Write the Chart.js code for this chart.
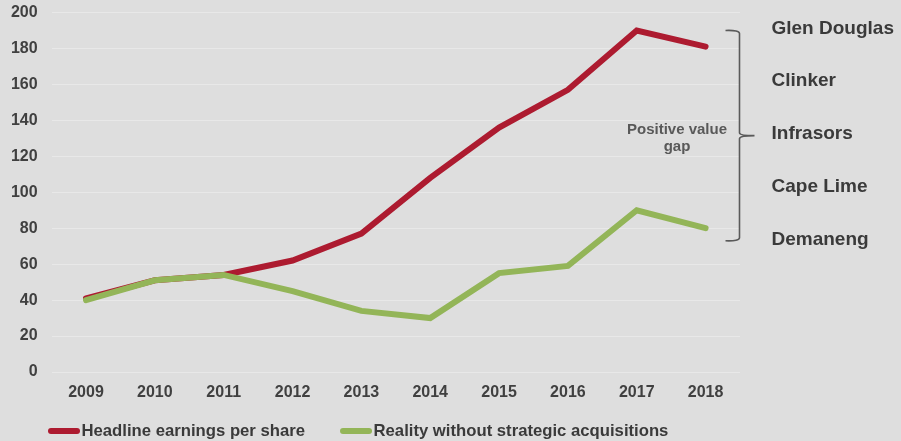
<!DOCTYPE html>
<html>
<head>
<meta charset="utf-8">
<title>Headline earnings per share vs. reality without strategic acquisitions</title>
<script src="https://cdn.jsdelivr.net/npm/chart.js@4/dist/chart.umd.min.js"></script>
<style>
  html, body { margin: 0; padding: 0; background: #dedede; }
  canvas { display: block; }
</style>
</head>
<body>
<canvas id="chart" width="901" height="441"></canvas>
<script>
// ---- data ----
const years = ['2009', '2010', '2011', '2012', '2013', '2014', '2015', '2016', '2017', '2018'];
const headlineEps = [41, 51, 54, 62, 77, 108, 136, 157, 190, 181];
const withoutAcquisitions = [40, 51, 54, 45, 34, 30, 55, 59, 90, 80];
const seriesNames = ['Headline earnings per share', 'Reality without strategic acquisitions'];
const acquisitions = ['Glen Douglas', 'Clinker', 'Infrasors', 'Cape Lime', 'Demaneng'];
const gapLabel = ['Positive value', 'gap'];
const yMin = 0, yMax = 200, yStep = 20;
// value range the brace on the right spans
const gapTop = 190, gapBottom = 73;

// ---- styling ----
const FONT = "'Liberation Sans', Arial, Helvetica, sans-serif";
const RED = '#ad1b30';
const GREEN = '#93b558';
const BG = '#dedede';

// Paint the grey page background behind the chart
const background = {
  id: 'background',
  beforeDraw(chart) {
    const ctx = chart.ctx;
    ctx.save();
    ctx.fillStyle = BG;
    ctx.fillRect(0, 0, chart.width, chart.height);
    ctx.restore();
  }
};

// Brace, its caption and the list of acquisitions on the right
const gapBrace = {
  id: 'gapBrace',
  afterDraw(chart) {
    const ctx = chart.ctx;
    const y = chart.scales.y;
    const area = chart.chartArea;
    const top = y.getPixelForValue(gapTop);
    const bottom = y.getPixelForValue(gapBottom);
    const mid = (top + bottom) / 2;
    const xr = area.right - 0.5;
    const xl = xr - 14;
    ctx.save();
    ctx.strokeStyle = '#5a5a5a';
    ctx.lineWidth = 1.6;
    ctx.lineJoin = 'round';
    ctx.beginPath();
    ctx.moveTo(xl, top);
    ctx.quadraticCurveTo(xr, top - 0.5, xr, top + 3);
    ctx.lineTo(xr, mid - 3);
    ctx.quadraticCurveTo(xr, mid, xr + 15, mid);
    ctx.moveTo(xr + 15, mid);
    ctx.quadraticCurveTo(xr, mid, xr, mid + 3);
    ctx.lineTo(xr, bottom - 3);
    ctx.quadraticCurveTo(xr, bottom + 0.5, xl, bottom);
    ctx.stroke();

    // caption to the left of the brace
    ctx.fillStyle = '#595959';
    ctx.font = 'bold 15px ' + FONT;
    ctx.textAlign = 'center';
    ctx.textBaseline = 'alphabetic';
    ctx.fillText(gapLabel[0], xr - 62.5, mid - 2);
    ctx.fillText(gapLabel[1], xr - 62.5, mid + 15.5);

    // acquisitions list to the right of the brace
    ctx.fillStyle = '#3a3a3a';
    ctx.font = 'bold 19px ' + FONT;
    ctx.textAlign = 'left';
    ctx.textBaseline = 'middle';
    const first = top - 2;
    const last = bottom - 1.5;
    const step = (last - first) / (acquisitions.length - 1);
    acquisitions.forEach((name, i) => {
      ctx.fillText(name, xr + 32, first + i * step);
    });
    ctx.restore();
  }
};

// Legend along the bottom: line swatch followed directly by its label
const lineLegend = {
  id: 'lineLegend',
  afterDraw(chart) {
    const ctx = chart.ctx;
    const yc = 431;
    let x = 48;
    ctx.save();
    ctx.font = 'bold 16.7px ' + FONT;
    ctx.textBaseline = 'middle';
    ctx.textAlign = 'left';
    chart.data.datasets.forEach((ds) => {
      ctx.strokeStyle = ds.borderColor;
      ctx.lineWidth = 6;
      ctx.lineCap = 'round';
      ctx.beginPath();
      ctx.moveTo(x + 3, yc);
      ctx.lineTo(x + 29, yc);
      ctx.stroke();
      ctx.fillStyle = '#3a3a3a';
      ctx.fillText(ds.label, x + 33.5, yc + 0.5);
      x += 33.5 + ctx.measureText(ds.label).width + 35;
    });
    ctx.restore();
  }
};

new Chart(document.getElementById('chart'), {
  type: 'line',
  data: {
    labels: years,
    datasets: [
      {
        label: seriesNames[0],
        data: headlineEps,
        borderColor: RED,
        backgroundColor: RED,
        borderWidth: 6,
        borderCapStyle: 'round',
        pointRadius: 0,
        tension: 0,
        order: 2
      },
      {
        label: seriesNames[1],
        data: withoutAcquisitions,
        borderColor: GREEN,
        backgroundColor: GREEN,
        borderWidth: 6,
        borderCapStyle: 'round',
        pointRadius: 0,
        tension: 0,
        order: 1
      }
    ]
  },
  options: {
    responsive: false,
    devicePixelRatio: 1,
    animation: false,
    layout: { autoPadding: false, padding: { left: 10, right: 161, top: 12.5, bottom: 39 } },
    plugins: {
      legend: { display: false },
      tooltip: { enabled: false }
    },
    scales: {
      x: {
        offset: true,
        grid: { display: false, drawTicks: false },
        border: { display: false },
        ticks: {
          color: '#404040',
          font: { family: FONT, size: 16, weight: 'bold' },
          padding: 11,
          maxRotation: 0
        },
        afterFit(scale) {
          scale.height = 30;
          scale.paddingLeft = 0;
          scale.paddingRight = 0;
        }
      },
      y: {
        min: yMin,
        max: yMax,
        grid: { color: '#e8e8e8', lineWidth: 1, drawTicks: false },
        border: { display: false },
        ticks: {
          stepSize: yStep,
          color: '#404040',
          font: { family: FONT, size: 16, weight: 'bold' },
          padding: 14
        },
        afterFit(scale) {
          scale.width = 41.6;
          scale.paddingTop = 0;
          scale.paddingBottom = 0;
        }
      }
    }
  },
  plugins: [background, gapBrace, lineLegend]
});
</script>
</body>
</html>
